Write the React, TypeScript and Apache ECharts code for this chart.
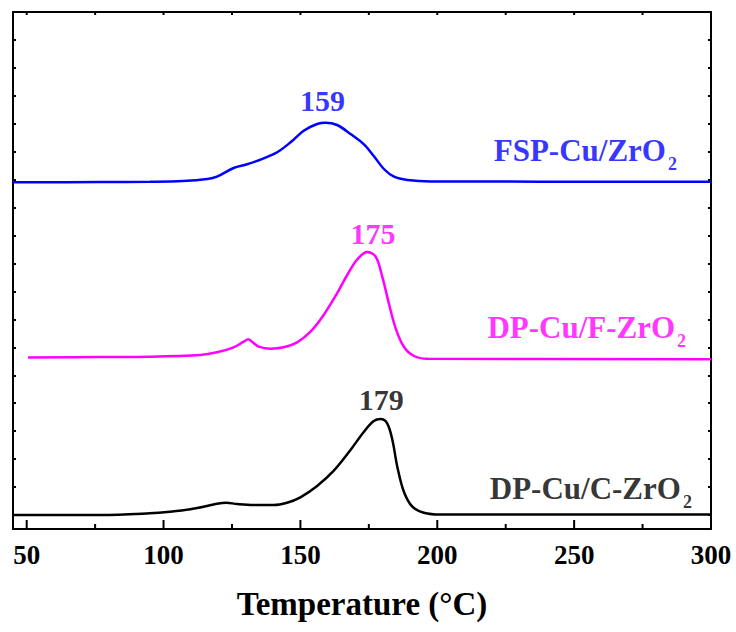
import React, { useEffect, useRef } from "react";
import * as echarts from "echarts";

// ---- data ----
const xMajorTicks = [50, 100, 150, 200, 250, 300];
const xMinorTicks = [75, 125, 175, 225, 275];
const yTicks = [0, 1, 2, 3, 4, 5, 6, 7, 8, 9, 10, 11, 12, 13, 14, 15, 16, 17, 18];

const fspT = [45, 77, 95, 107, 116, 119.5, 125.6, 130.5, 136.6, 141.5, 146.4, 151.2, 156.1, 159.2, 163.4, 168.3, 173.2, 176.8, 180.5, 184.2, 189.1, 197.6, 300];
const fspV = [346.7, 347, 347.3, 348, 350, 352.3, 361, 364.7, 370.7, 376.7, 386.7, 398.3, 405, 406.3, 404, 395, 384.7, 373, 360, 352.3, 349, 347.5, 347.3];

const dpfT = [50.5, 77, 95, 113.4, 119.5, 125.6, 129.3, 130.9, 132.3, 134.8, 139, 143.9, 148.8, 153.7, 158.5, 163.4, 167.1, 170.8, 174.4, 177.5, 179.9, 182.3, 184.8, 187.8, 191.5, 196.4, 300];
const dpfV = [171.5, 172, 172.3, 174, 176.7, 181.7, 187.3, 189.7, 187.3, 182.3, 180.3, 181.7, 186.7, 197.3, 214, 235.7, 254, 269.7, 277, 272.3, 252.3, 225.7, 200.7, 182.3, 173, 170.3, 169.7];

const dpcT = [45, 77, 95, 102.4, 109.8, 115.9, 119.5, 122.9, 126.8, 132.9, 140.2, 145.1, 150, 156.1, 162.2, 168.3, 173.2, 176.8, 179.3, 181.7, 183.6, 185.4, 187.8, 190.9, 195.1, 201.2, 300];
const dpcV = [14, 14, 15.7, 17.3, 19.7, 23, 25.3, 26.3, 25, 24, 24, 26.3, 31.7, 43, 58.3, 79, 97.3, 108, 110, 105.7, 89, 62.3, 37.3, 22.3, 16.3, 14.5, 14.5];

const seriesNames = ["FSP-Cu/ZrO", "DP-Cu/F-ZrO", "DP-Cu/C-ZrO"];
const seriesColors = ["#0000ff", "#ff00ff", "#000000"];
const peakLabels = ["159", "175", "179"];
const peakLabelPos = [[158.1, 429], [176.5, 296], [179.5, 129.5]];
const nameLabelPos = [[254.1, 379], [254.6, 201.5], [256.1, 40.5]];

const X_MIN = 45;
const X_MAX = 300;
const Y_MAX = 517;

const FONT = "'Liberation Serif', 'Times New Roman', serif";

function pairs(t: number[], v: number[]) {
  return t.map((x, i) => [x, v[i]]);
}

export default function App() {
  const ref = useRef<HTMLDivElement>(null);
  useEffect(() => {
    document.body.style.margin = "0";
    const chart = echarts.init(ref.current!, null, { renderer: "svg" });
    const series: any[] = [];

    // frame lines and x tick marks, drawn through the axes' scales
    const seg = (data: number[][]) => ({
      type: "line",
      xAxisIndex: 0,
      yAxisIndex: 2,
      showSymbol: false,
      clip: false,
      data,
      lineStyle: { color: "#000", width: 2 },
    });
    series.push(seg([[X_MIN, 0], [X_MAX, 0]]));
    series.push(seg([[X_MIN, Y_MAX], [X_MAX, Y_MAX]]));
    xMajorTicks.forEach((t) => {
      series.push(seg([[t, 0], [t, 9]]));
      series.push(seg([[t, Y_MAX], [t, Y_MAX - 3]]));
    });
    xMinorTicks.forEach((t) => {
      series.push(seg([[t, 0], [t, 5]]));
      series.push(seg([[t, Y_MAX], [t, Y_MAX - 3]]));
    });

    // data curves
    const datasets = [pairs(fspT, fspV), pairs(dpfT, dpfV), pairs(dpcT, dpcV)];
    datasets.forEach((d, i) => {
      series.push({
        type: "line",
        name: seriesNames[i],
        xAxisIndex: 0,
        yAxisIndex: 2,
        data: d,
        showSymbol: false,
        smooth: 0.35,
        lineStyle: { color: seriesColors[i], width: 2.5 },
      });
    });

    // text annotations as label-only scatter points
    datasets.forEach((_, i) => {
      series.push({
        type: "scatter",
        xAxisIndex: 0,
        yAxisIndex: 2,
        symbolSize: 1,
        itemStyle: { color: "transparent" },
        data: [
          {
            value: peakLabelPos[i],
            label: { show: true, position: "inside", formatter: peakLabels[i], color: seriesColors[i], fontFamily: FONT, fontWeight: "bold", fontSize: 30 },
          },
          {
            value: nameLabelPos[i],
            label: {
              show: true,
              position: "inside",
              formatter: "{a|" + seriesNames[i] + "}{b|2}",
              rich: {
                a: { color: seriesColors[i], fontFamily: FONT, fontWeight: "bold", fontSize: 31 },
                b: { color: seriesColors[i], fontFamily: FONT, fontWeight: "bold", fontSize: 18, padding: [27, 0, 0, 2] },
              },
            },
          },
        ],
      });
    });

    chart.setOption({
      animation: false,
      grid: { left: 13, right: 25, top: 12, bottom: 103 },
      xAxis: [
        {
          type: "value",
          position: "bottom",
          min: X_MIN,
          max: X_MAX,
          axisLine: { show: true, onZero: false, lineStyle: { color: "#000", width: 2 } },
          axisTick: { show: false },
          axisLabel: {
            show: true,
            showMinLabel: false,
            formatter: (v: number) => (xMajorTicks.indexOf(v) >= 0 ? String(v) : ""),
            fontFamily: FONT,
            fontWeight: "bold",
            fontSize: 27,
            color: "#000",
            margin: 12,
          },
          splitLine: { show: false },
          name: "Temperature (°C)",
          nameLocation: "middle",
          nameGap: 58,
          nameTextStyle: { fontFamily: FONT, fontWeight: "bold", fontSize: 33, color: "#000" },
        },
        {
          type: "value",
          position: "top",
          min: X_MIN,
          max: X_MAX,
          axisLine: { show: true, onZero: false, lineStyle: { color: "#000", width: 2 } },
          axisTick: { show: false },
          axisLabel: { show: false },
          splitLine: { show: false },
        },
      ],
      yAxis: [
        {
          type: "value",
          position: "left",
          min: -0.5,
          max: 18,
          axisLine: { show: true, onZero: false, lineStyle: { color: "#000", width: 2 } },
          axisTick: { show: true, inside: true, length: 3, customValues: yTicks, lineStyle: { color: "#000", width: 2 } },
          axisLabel: { show: false },
          splitLine: { show: false },
        },
        {
          type: "value",
          position: "right",
          min: -0.5,
          max: 18,
          axisLine: { show: true, onZero: false, lineStyle: { color: "#000", width: 2 } },
          axisTick: { show: true, inside: true, length: 3, customValues: yTicks, lineStyle: { color: "#000", width: 2 } },
          axisLabel: { show: false },
          splitLine: { show: false },
        },
        {
          type: "value",
          min: 0,
          max: Y_MAX,
          show: false,
        },
      ],
      series,
    });
    return () => chart.dispose();
  }, []);
  return <div ref={ref} style={{ width: 736, height: 632 }} />;
}
